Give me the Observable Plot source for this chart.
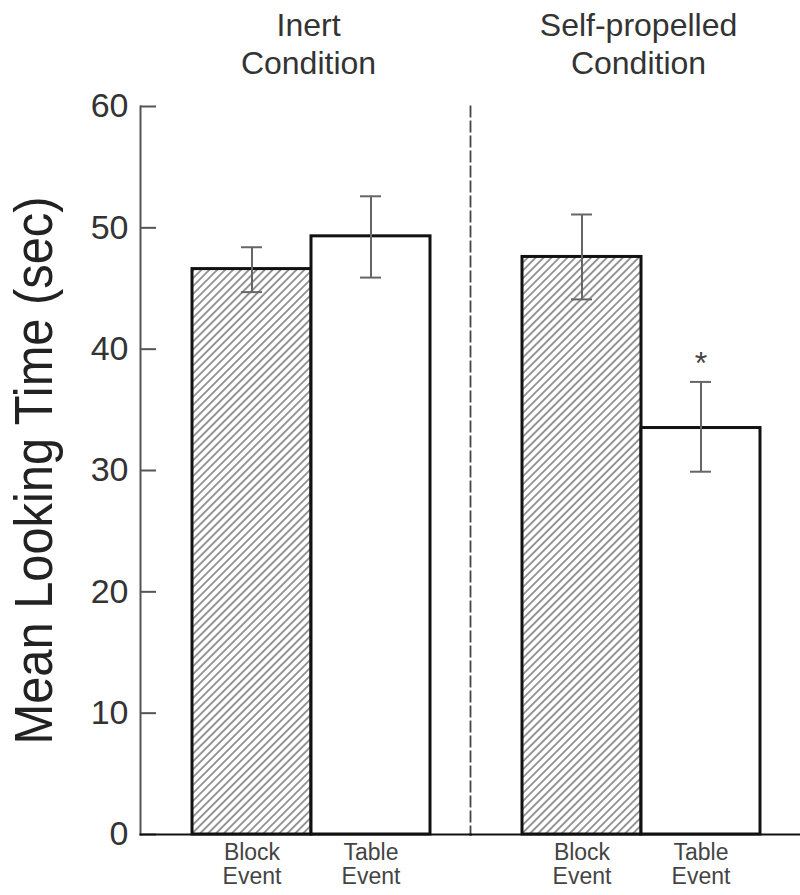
<!DOCTYPE html>
<html>
<head>
<meta charset="utf-8">
<script src="https://cdn.jsdelivr.net/npm/d3@7"></script>
<script src="https://cdn.jsdelivr.net/npm/@observablehq/plot@0.6"></script>
<style>
  html, body { margin: 0; padding: 0; background: white; }
  #chart { width: 800px; height: 895px; }
</style>
</head>
<body>
<svg width="0" height="0" style="position:absolute">
  <defs>
    <pattern id="hatch" patternUnits="userSpaceOnUse" width="5.6" height="5.6" patternTransform="rotate(45)">
      <rect width="5.6" height="5.6" fill="white"/>
      <line x1="2.8" y1="0" x2="2.8" y2="5.6" stroke="#555" stroke-width="1.2"/>
    </pattern>
  </defs>
</svg>
<div id="chart"></div>
<script>
// ---- data ----
const conditions = ["Inert", "Self-propelled"];
const conditionTitles = ["Inert\nCondition", "Self-propelled\nCondition"];
const events = ["Block", "Table"];
const eventLabels = ["Block\nEvent", "Table\nEvent"];
// order: Inert-Block, Inert-Table, Self-Block, Self-Table
const means   = [46.6, 49.3, 47.6, 33.5];
const errLow  = [44.7, 45.9, 44.1, 29.9];
const errHigh = [48.4, 52.6, 51.1, 37.3];
const sigMarks = ["", "", "", "*"];
const yTicks = [0, 10, 20, 30, 40, 50, 60];
const yLabel = "Mean Looking Time (sec)";

const rows = means.map((m, i) => ({
  condition: conditions[Math.floor(i / 2)],
  event: events[i % 2],
  mean: m,
  lo: errLow[i],
  hi: errHigh[i],
  mark: sigMarks[i]
}));

const chart = Plot.plot({
  width: 800,
  height: 895,
  marginTop: 106,
  marginBottom: 61,
  marginLeft: 140,
  marginRight: 0,
  style: {fontFamily: "'Liberation Sans', Arial, sans-serif", background: "white", color: "#333"},
  fx: {domain: conditions, padding: 0, axis: null, label: null},
  x: {domain: events, paddingInner: 0, paddingOuter: 0.3808, align: 0.56, axis: null, label: null},
  y: {domain: [0, 60], axis: null, label: null},
  marks: [
    // facet titles
    Plot.text(conditionTitles, {fx: conditions, frameAnchor: "top", lineAnchor: "top", dy: -98, dx: 3,
      fontSize: 32, lineHeight: 1.19, fill: "#333"}),
    // y axis
    Plot.frame({anchor: "left", fx: [conditions[0]], stroke: "#555", strokeWidth: 2}),
    Plot.axisY({ticks: yTicks, tickSize: -16, tickPadding: 28, fontSize: 34, stroke: "#555", strokeWidth: 2, fill: "#333", label: null}),
    Plot.text([yLabel], {fx: [conditions[0]], frameAnchor: "left", rotate: -90, dx: -106,
      fontSize: 54, fill: "#222", textAnchor: "middle", lineAnchor: "middle"}),
    // dashed separator
    Plot.frame({anchor: "left", fx: [conditions[1]], stroke: "#444", strokeWidth: 1.8, strokeDasharray: "10,5"}),
    // bars
    Plot.barY(rows, {filter: d => d.event === events[0], fx: "condition", x: "event", y: "mean",
      fill: "url(#hatch)", stroke: "#111", strokeWidth: 3}),
    Plot.barY(rows, {filter: d => d.event === events[1], fx: "condition", x: "event", y: "mean",
      fill: "white", stroke: "#111", strokeWidth: 3}),
    // x axis baseline
    Plot.frame({anchor: "bottom", stroke: "#111", strokeWidth: 2}),
    // error bars
    Plot.ruleX(rows, {fx: "condition", x: "event", y1: "lo", y2: "hi", stroke: "#666", strokeWidth: 2}),
    Plot.tickY(rows, {fx: "condition", x: "event", y: "lo", stroke: "#666", strokeWidth: 2, inset: 49}),
    Plot.tickY(rows, {fx: "condition", x: "event", y: "hi", stroke: "#666", strokeWidth: 2, inset: 49}),
    // significance marker
    Plot.text(rows, {fx: "condition", x: "event", y: "hi", text: "mark", dy: -18, fontSize: 32, fill: "#444"}),
    // x tick labels
    Plot.axisX({tickSize: 0, tickPadding: 9, fontSize: 23, fill: "#444", lineHeight: 1.04,
      tickFormat: d => eventLabels[events.indexOf(d)], label: null})
  ]
});

d3.select(chart).selectAll("text").filter(function () { return this.textContent === yLabel; })
  .attr("textLength", 548).attr("lengthAdjust", "spacingAndGlyphs");

document.getElementById("chart").appendChild(chart);
</script>
</body>
</html>
